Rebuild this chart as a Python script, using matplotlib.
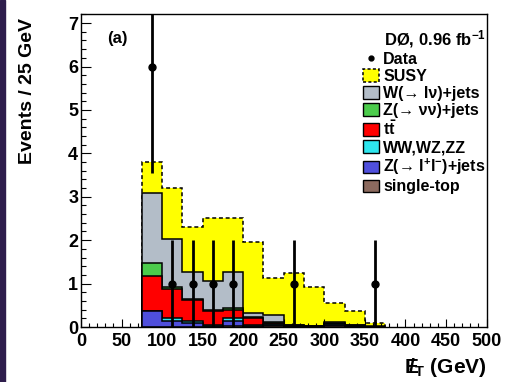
import numpy as np
import matplotlib
matplotlib.use("Agg")
import matplotlib.pyplot as plt
from matplotlib.patches import Patch, Rectangle
from matplotlib.lines import Line2D
from matplotlib.ticker import MultipleLocator

plt.rcParams['font.family'] = ['Liberation Sans', 'DejaVu Sans']
plt.rcParams['font.weight'] = 'bold'
plt.rcParams['mathtext.fontset'] = 'custom'
plt.rcParams['mathtext.rm'] = 'Liberation Sans:bold'
plt.rcParams['mathtext.it'] = 'Liberation Sans:bold'
plt.rcParams['mathtext.bf'] = 'Liberation Sans:bold'

# --- DATA (25 GeV bins, 75 -> 375 GeV) ---
bin_edges = np.arange(75, 376, 25)

# backgrounds, listed bottom -> top of the stack
single_top = [0.00, 0.01, 0.01, 0.01, 0.02, 0.01, 0.015, 0.01, 0.005, 0.02, 0.005, 0.0]
z_ll_jets = [0.37, 0.13, 0.09, 0.02, 0.12, 0.02, 0.025, 0.0, 0.005, 0.02, 0.005, 0.0]
diboson = [0.01, 0.07, 0.045, 0.01, 0.07, 0.02, 0.02, 0.005, 0.0, 0.02, 0.005, 0.0]
ttbar = [0.79, 0.66, 0.475, 0.33, 0.19, 0.15, 0.04, 0.015, 0.01, 0.01, 0.015, 0.01]
z_nunu_jets = [0.30, 0.06, 0.02, 0.03, 0.03, 0.02, 0.02, 0.005, 0.005, 0.02, 0.005, 0.0]
w_lnu_jets = [1.61, 1.09, 0.62, 0.66, 0.84, 0.11, 0.16, 0.005, 0.005, 0.03, 0.015, 0.005]
susy = [0.71, 1.19, 1.05, 1.44, 1.23, 1.62, 0.86, 1.21, 0.90, 0.44, 0.31, 0.07]

data_x = [87.5, 112.5, 137.5, 162.5, 187.5, 262.5, 362.5]
data_n = [6, 1, 1, 1, 1, 1, 1]

bkg_labels = ["single-top", "Z(→ l$^{+}$l$^{-}$)+jets", "WW,WZ,ZZ",
              r"$\mathbf{t\bar{t}}$", "Z(→ νν)+jets", "W(→ lν)+jets"]
bkg_colors = ["#8c6a5e", "#4f4fdc", "#2ee6ee", "#ff0000", "#4ccc4c", "#b3bdc8"]

# --- PLOT ---
fig = plt.figure(figsize=(5.09, 3.82), dpi=100)
fig.patches.append(Rectangle((0, 0), 5 / 509, 1, transform=fig.transFigure,
                             color="#2e1d4c", zorder=0))
ax = fig.add_axes([81 / 509, 55 / 382, 405.5 / 509, 313 / 382])

bkg = [single_top, z_ll_jets, diboson, ttbar, z_nunu_jets, w_lnu_jets]
cum = np.cumsum(np.array(bkg), axis=0)
total = cum[-1] + np.array(susy)

# SUSY on top of everything, dashed outline
ax.stairs(total, bin_edges, baseline=0, fill=True, color="#ffff00", zorder=1)
ax.stairs(total, bin_edges, baseline=0, color="k", lw=1.1,
          linestyle=(0, (2.6, 1.8)), zorder=1.5)

# background stack, drawn from the top layer down
for i in range(len(bkg) - 1, -1, -1):
    ax.stairs(cum[i], bin_edges, baseline=0, fill=True, facecolor=bkg_colors[i],
              edgecolor="k", lw=1.1, zorder=2)

# data with sqrt(N) errors
ax.errorbar(data_x, data_n, yerr=np.sqrt(data_n), fmt="o", color="k",
            ms=5, elinewidth=2.0, capsize=0, zorder=5)

ax.set_xlim(0, 500)
ax.set_ylim(0, 7.21)
ax.xaxis.set_major_locator(MultipleLocator(50))
ax.xaxis.set_minor_locator(MultipleLocator(10))
ax.yaxis.set_major_locator(MultipleLocator(1))
ax.yaxis.set_minor_locator(MultipleLocator(0.2))
ax.tick_params(axis="both", which="both", direction="in", top=False, right=False,
               labelsize=13, width=0.8)
ax.tick_params(axis="x", which="major", length=6, pad=4)
ax.tick_params(axis="x", which="minor", length=3)
ax.tick_params(axis="y", which="major", length=7.5, pad=2)
ax.tick_params(axis="y", which="minor", length=3.8)
for s in ax.spines.values():
    s.set_linewidth(1.0)

ax.set_ylabel("Events / 25 GeV", fontsize=14, fontweight="bold")
ax.yaxis.set_label_coords(-0.133, 0.987)
ax.yaxis.label.set_ha("right")
ax.yaxis.label.set_va("center")
ax.set_xlabel(r"$\mathbf{E\!\!\!/}_{\mathbf{T}}$ (GeV)", fontsize=15, fontweight="bold")
ax.xaxis.set_label_coords(1.0, -0.128)
ax.xaxis.label.set_ha("right")
ax.xaxis.label.set_va("center")

ax.text(0.064, 0.923, "(a)", transform=ax.transAxes, fontsize=12,
        fontweight="bold", va="center")

handles = [Line2D([], [], marker="o", color="k", ls="none", ms=3.5),
           Patch(facecolor="#ffff00", edgecolor="k", linestyle=(0, (2, 1.5)), lw=1.1)]
labels = ["Data", "SUSY"]
for i in range(len(bkg) - 1, -1, -1):
    handles.append(Patch(facecolor=bkg_colors[i], edgecolor="k", lw=1.0))
    labels.append(bkg_labels[i])

leg = ax.legend(handles, labels, loc="upper right", bbox_to_anchor=(1.025, 0.99),
                frameon=False, fontsize=11.5, title=r"DØ, 0.96 fb$^{\mathbf{-1}}$",
                title_fontsize=12, handlelength=1.0, handleheight=0.85,
                handletextpad=0.25, labelspacing=0.12, borderpad=0.5,
                borderaxespad=0.2, alignment="right")
leg.get_title().set_fontweight("bold")

fig.savefig("out.png", dpi=100)
